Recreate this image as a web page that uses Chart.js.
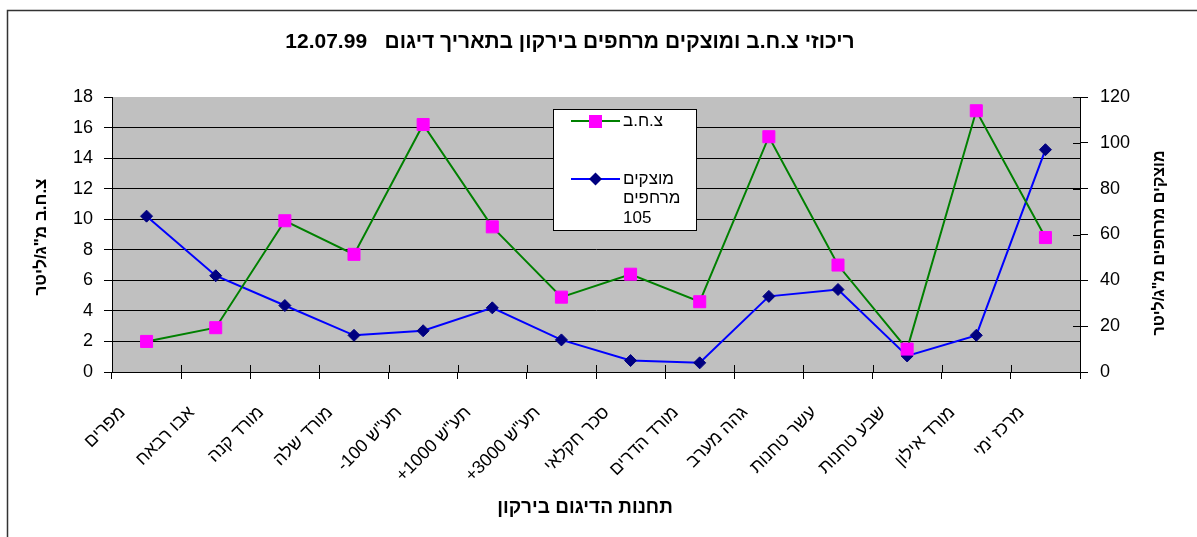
<!DOCTYPE html>
<html><head><meta charset="utf-8">
<script src="https://cdn.jsdelivr.net/npm/chart.js@4.4.1/dist/chart.umd.min.js"></script>
<style>html,body{margin:0;padding:0;background:#fff;}canvas{display:block;}</style>
</head><body>
<canvas id="c" width="1197" height="537" dir="rtl"></canvas>
<script>
const categories = ['מפרים','אבו רבאח','מורד קנה','מורד שלה','תע"ש 100-','תע"ש 1000+','תע"ש 3000+','סכר חקלאי','מורד הדרים','גהה מערב','עשר טחנות','שבע טחנות','מורד אילון','מרכז ימי'];
const tssValues = [2.0, 2.9, 9.9, 7.7, 16.2, 9.5, 4.9, 6.4, 4.6, 15.4, 7.0, 1.5, 17.1, 8.8];
const suspendedValues = [68, 42, 29, 16, 18, 28, 14, 5, 4, 33, 36, 7, 16, 97];
const tssLabel = 'צ.ח.ב';
const suspendedLabel = 'מוצקים מרחפים 105';
const suspendedLegendLines = ['מוצקים', 'מרחפים', '105'];
const chartTitle = 'ריכוזי צ.ח.ב ומוצקים מרחפים בירקון בתאריך דיגום   12.07.99';
const xTitle = 'תחנות הדיגום בירקון';
const yLeftTitle = 'צ.ח.ב מ"ג/ליטר';
const yRightTitle = 'מוצקים מרחפים מ"ג/ליטר';
const leftAxis = {min: 0, max: 18, step: 2};
const rightAxis = {min: 0, max: 120, step: 20};

const FONT = 'Arial, "Liberation Sans", sans-serif';
Chart.defaults.font.family = FONT;
Chart.defaults.color = '#000';

function zeroPad(s){ s.paddingLeft = 0; s.paddingRight = 0; s.paddingTop = 0; s.paddingBottom = 0; }

const decor = {
  id: 'decor',
  beforeDraw(chart){
    const {ctx, chartArea: a} = chart;
    ctx.save();
    ctx.fillStyle = '#fff';
    ctx.fillRect(0, 0, chart.width, chart.height);
    ctx.fillStyle = '#C0C0C0';
    ctx.fillRect(a.left, a.top, a.right - a.left, a.bottom - a.top);
    ctx.restore();
  },
  afterDraw(chart){
    const {ctx, chartArea: a} = chart;
    const xs = chart.scales.x, y1 = chart.scales.y1;
    ctx.save();
    ctx.strokeStyle = '#333';
    ctx.lineWidth = 1.5;
    ctx.beginPath();
    ctx.moveTo(7.5, chart.height);
    ctx.lineTo(7.5, 10.5);
    ctx.lineTo(chart.width, 10.5);
    ctx.stroke();
    ctx.strokeStyle = '#000';
    ctx.lineWidth = 1;
    ctx.beginPath();
    for (let i = 0; i <= categories.length; i++) {
      const px = Math.round(xs.getPixelForValue(i - 0.5)) + 0.5;
      ctx.moveTo(px, a.bottom - 7);
      ctx.lineTo(px, a.bottom);
    }
    for (let v = rightAxis.min; v <= rightAxis.max; v += rightAxis.step) {
      const py = Math.round(y1.getPixelForValue(v)) + 0.5;
      ctx.moveTo(a.right - 7, py);
      ctx.lineTo(a.right, py);
    }
    ctx.stroke();
    ctx.fillStyle = '#000';
    ctx.textBaseline = 'middle';
    ctx.textAlign = 'center';
    ctx.font = 'bold 21px ' + FONT;
    ctx.fillText(chartTitle, 570, 42);
    ctx.font = 'bold 19px ' + FONT;
    ctx.fillText(xTitle, 585, 508);
    ctx.save();
    ctx.translate(41, 237);
    ctx.rotate(-Math.PI / 2);
    ctx.font = 'bold 17px ' + FONT;
    ctx.fillText(yLeftTitle, 0, 0);
    ctx.restore();
    ctx.save();
    ctx.translate(1160, 243);
    ctx.rotate(-Math.PI / 2);
    ctx.font = 'bold 16px ' + FONT;
    ctx.fillText(yRightTitle, 0, 0);
    ctx.restore();
    const L = {x: 553.5, y: 109.5, w: 143, h: 121};
    ctx.fillStyle = '#fff';
    ctx.fillRect(L.x, L.y, L.w, L.h);
    ctx.strokeStyle = '#000';
    ctx.lineWidth = 1;
    ctx.strokeRect(L.x, L.y, L.w, L.h);
    const ds = chart.data.datasets;
    ctx.lineWidth = 2;
    ctx.strokeStyle = ds[0].borderColor;
    ctx.beginPath(); ctx.moveTo(571, 121); ctx.lineTo(620, 121); ctx.stroke();
    ctx.fillStyle = ds[0].pointBackgroundColor;
    ctx.fillRect(589, 115, 13, 13);
    ctx.strokeStyle = ds[1].borderColor;
    ctx.beginPath(); ctx.moveTo(571, 179); ctx.lineTo(620, 179); ctx.stroke();
    ctx.fillStyle = ds[1].pointBackgroundColor;
    ctx.beginPath();
    ctx.moveTo(595.5 - 6.5, 179); ctx.lineTo(595.5, 179 - 6.5); ctx.lineTo(595.5 + 6.5, 179); ctx.lineTo(595.5, 179 + 6.5);
    ctx.closePath(); ctx.fill();
    ctx.fillStyle = '#000';
    ctx.font = '17px ' + FONT;
    ctx.textAlign = 'left';
    ctx.fillText(tssLabel, 623, 121);
    suspendedLegendLines.forEach((t, i) => ctx.fillText(t, 623, 179 + i * 19.5));
    ctx.restore();
  }
};

new Chart(document.getElementById('c'), {
  type: 'line',
  data: {
    labels: categories,
    datasets: [
      {
        label: tssLabel, data: tssValues, yAxisID: 'y',
        borderColor: '#008000', borderWidth: 2,
        pointStyle: 'rect', pointRadius: 8.5, pointHoverRadius: 8.5,
        pointBackgroundColor: '#FF00FF', pointBorderColor: '#FF00FF', pointBorderWidth: 1,
        tension: 0, fill: false
      },
      {
        label: suspendedLabel, data: suspendedValues, yAxisID: 'y1',
        borderColor: '#0000FF', borderWidth: 2,
        pointStyle: 'rectRot', pointRadius: 6, pointHoverRadius: 6,
        pointBackgroundColor: '#000080', pointBorderColor: '#000080', pointBorderWidth: 1,
        tension: 0, fill: false
      }
    ]
  },
  options: {
    responsive: false,
    animation: false,
    events: [],
    layout: {padding: {top: 97, left: 0, right: 0, bottom: 0}},
    plugins: {legend: {display: false}, tooltip: {enabled: false}, title: {display: false}},
    scales: {
      x: {
        type: 'category', offset: true,
        grid: {offset: true, drawOnChartArea: false, tickLength: 7, color: '#000'},
        border: {color: '#000', width: 1},
        ticks: {autoSkip: false, minRotation: 45, maxRotation: 45, font: {size: 18}, color: '#000', padding: 23, labelOffset: -24},
        afterFit: s => { s.height = 165; zeroPad(s); }
      },
      y: {
        position: 'left', min: leftAxis.min, max: leftAxis.max,
        grid: {
          color: c => (c.tick && c.tick.value === leftAxis.max) ? 'rgba(0,0,0,0)' : '#000',
          tickColor: '#000', tickLength: 8, lineWidth: 1
        },
        border: {color: '#000', width: 1},
        ticks: {stepSize: leftAxis.step, font: {size: 18}, color: '#000', padding: 11},
        afterFit: s => { s.width = 112; zeroPad(s); }
      },
      y1: {
        position: 'right', min: rightAxis.min, max: rightAxis.max,
        grid: {drawOnChartArea: false, tickColor: '#000', color: '#000', tickLength: 8},
        border: {color: '#000', width: 1},
        ticks: {stepSize: rightAxis.step, font: {size: 18}, color: '#000', padding: 12},
        afterFit: s => { s.width = 117; zeroPad(s); }
      }
    }
  },
  plugins: [decor]
});
</script>
</body></html>
